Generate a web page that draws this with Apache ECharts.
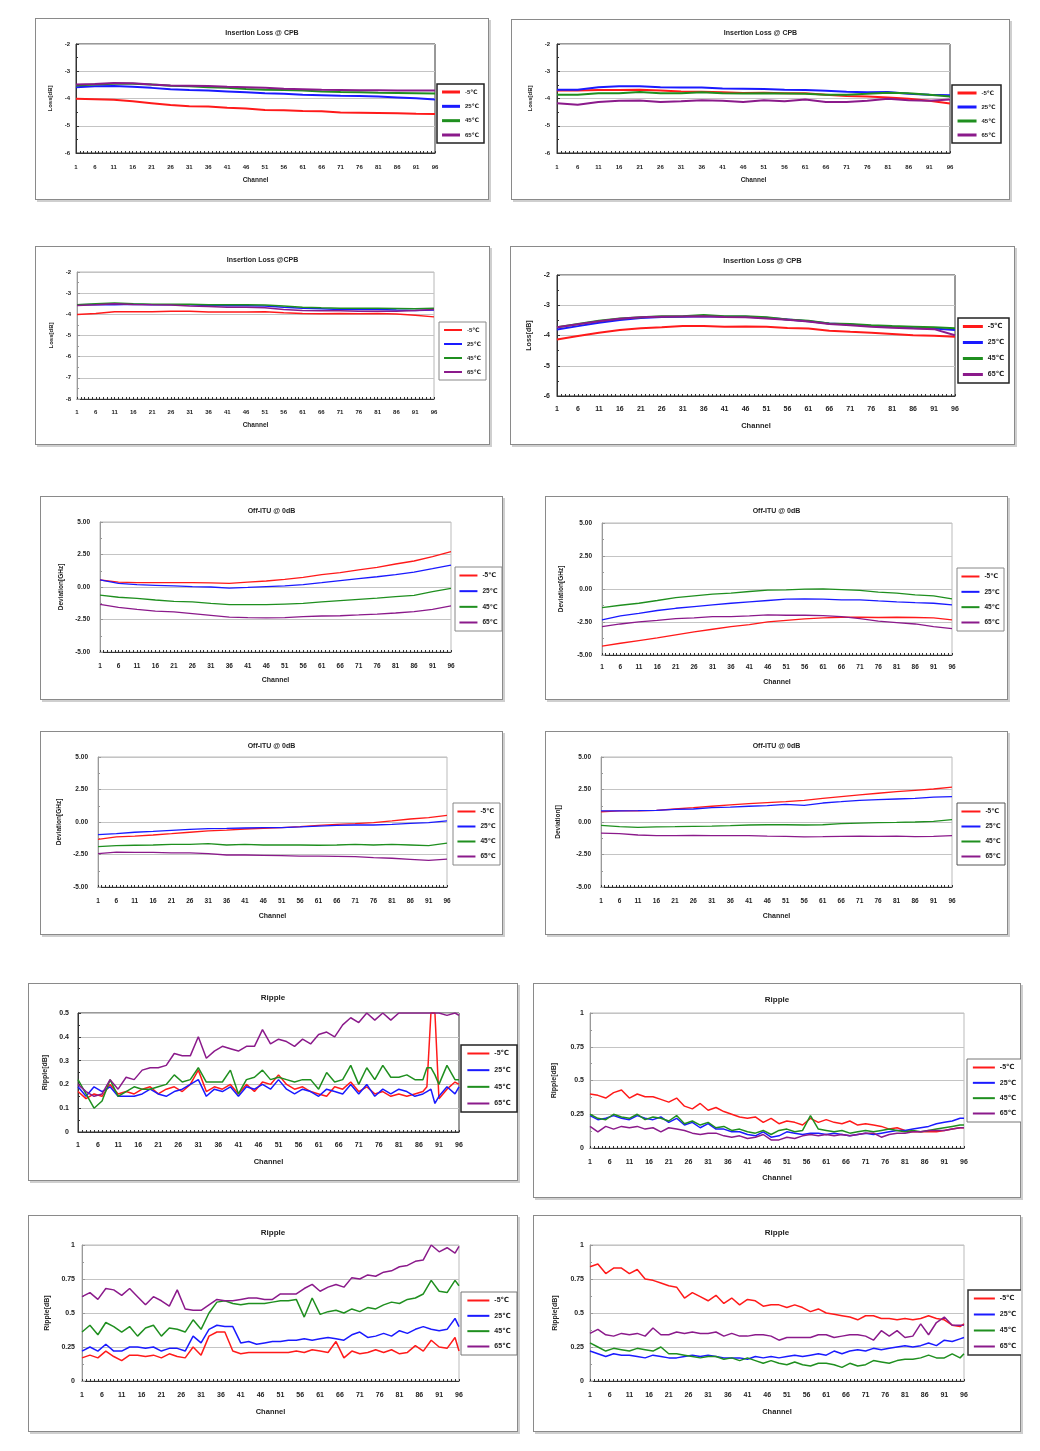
<!DOCTYPE html>
<html><head><meta charset="utf-8">
<script src="https://cdn.jsdelivr.net/npm/echarts@6/dist/echarts.min.js"></script>
<style>
html,body{margin:0;padding:0;background:#fff;}
body{width:1040px;height:1451px;position:relative;overflow:hidden;}
.frame{position:absolute;box-sizing:border-box;border:1px solid #8a8a8a;box-shadow:2px 2px 0 #cfcfcf;background:#fff;}
.chart{position:absolute;}
</style></head><body>
<script>
// ---------- categories / tick labels ----------
const CATS = Array.from({length:96},(_,i)=>String(i+1));
const NAMES = ['-5℃','25℃','45℃','65℃'];
const SMOOTH_CH = [1,6,11,16,21,26,31,36,41,46,51,56,61,66,71,76,81,86,91,96];
const RIPPLE_CH = [1,3,5,7,9,11,13,15,17,19,21,23,25,27,29,31,33,35,37,39,41,43,45,47,49,51,53,55,57,59,61,63,65,67,69,71,73,75,77,79,81,83,85,87,89,91,93,95,96];
const RIPPLE9_CH = [1,3,5,7,9,11,13,15,17,19,21,23,25,27,29,31,33,35,37,39,41,43,45,47,49,51,53,55,57,59,61,63,65,67,69,71,73,75,77,79,81,83,85,87,88,89,90,91,93,95,96];

// ---------- Insertion loss panels ----------
const IL1_M5 = [-4.01,-4.03,-4.05,-4.10,-4.17,-4.24,-4.28,-4.29,-4.34,-4.37,-4.42,-4.43,-4.46,-4.47,-4.51,-4.52,-4.53,-4.54,-4.56,-4.57];
const IL1_25 = [-3.59,-3.55,-3.54,-3.57,-3.61,-3.66,-3.69,-3.71,-3.74,-3.77,-3.81,-3.83,-3.86,-3.88,-3.90,-3.91,-3.93,-3.96,-3.99,-4.04];
const IL1_45 = [-3.52,-3.49,-3.46,-3.46,-3.49,-3.53,-3.55,-3.59,-3.61,-3.65,-3.68,-3.69,-3.71,-3.74,-3.76,-3.77,-3.79,-3.80,-3.81,-3.82];
const IL1_65 = [-3.49,-3.47,-3.43,-3.44,-3.49,-3.52,-3.53,-3.54,-3.57,-3.59,-3.61,-3.64,-3.66,-3.68,-3.69,-3.70,-3.70,-3.71,-3.71,-3.71];

const IL2_M5 = [-3.71,-3.71,-3.69,-3.69,-3.68,-3.71,-3.74,-3.75,-3.77,-3.80,-3.79,-3.81,-3.81,-3.86,-3.91,-3.93,-3.96,-4.01,-4.08,-4.18];
const IL2_25 = [-3.68,-3.68,-3.59,-3.55,-3.55,-3.59,-3.60,-3.60,-3.63,-3.64,-3.65,-3.68,-3.69,-3.72,-3.75,-3.77,-3.76,-3.83,-3.86,-3.88];
const IL2_45 = [-3.86,-3.86,-3.81,-3.81,-3.76,-3.81,-3.81,-3.77,-3.81,-3.82,-3.81,-3.82,-3.83,-3.86,-3.86,-3.83,-3.79,-3.81,-3.86,-3.93];
const IL2_65 = [-4.17,-4.23,-4.13,-4.08,-4.07,-4.13,-4.10,-4.06,-4.08,-4.13,-4.06,-4.10,-4.04,-4.13,-4.13,-4.08,-4.01,-4.06,-4.08,-4.04];

const IL3_M5 = [-4.01,-3.96,-3.88,-3.88,-3.88,-3.86,-3.86,-3.89,-3.89,-3.89,-3.88,-3.93,-3.96,-3.97,-3.96,-3.97,-3.96,-3.99,-4.04,-4.12];
const IL3_25 = [-3.55,-3.53,-3.55,-3.52,-3.55,-3.55,-3.55,-3.58,-3.59,-3.59,-3.61,-3.67,-3.71,-3.74,-3.77,-3.77,-3.77,-3.80,-3.82,-3.80];
const IL3_45 = [-3.55,-3.50,-3.47,-3.50,-3.52,-3.52,-3.52,-3.55,-3.55,-3.55,-3.56,-3.61,-3.66,-3.69,-3.71,-3.71,-3.71,-3.72,-3.74,-3.71];
const IL3_65 = [-3.58,-3.55,-3.50,-3.53,-3.55,-3.56,-3.61,-3.63,-3.66,-3.66,-3.69,-3.77,-3.82,-3.83,-3.83,-3.85,-3.85,-3.85,-3.82,-3.77];

const IL4_M5 = [-4.13,-4.02,-3.91,-3.82,-3.76,-3.73,-3.69,-3.69,-3.71,-3.70,-3.71,-3.75,-3.77,-3.84,-3.88,-3.91,-3.95,-3.99,-4.01,-4.04];
const IL4_25 = [-3.80,-3.69,-3.58,-3.49,-3.42,-3.39,-3.38,-3.36,-3.38,-3.38,-3.41,-3.47,-3.53,-3.60,-3.64,-3.69,-3.71,-3.75,-3.77,-3.82];
const IL4_45 = [-3.73,-3.62,-3.51,-3.44,-3.40,-3.36,-3.36,-3.32,-3.36,-3.36,-3.40,-3.47,-3.51,-3.60,-3.62,-3.66,-3.69,-3.71,-3.73,-3.76];
const IL4_65 = [-3.73,-3.63,-3.53,-3.45,-3.40,-3.38,-3.37,-3.36,-3.39,-3.40,-3.44,-3.48,-3.54,-3.62,-3.66,-3.71,-3.74,-3.77,-3.79,-3.99];

// ---------- Off-ITU panels ----------
const OI5_M5 = [0.54,0.38,0.33,0.33,0.33,0.33,0.31,0.28,0.38,0.46,0.59,0.74,0.95,1.10,1.31,1.51,1.77,2.00,2.33,2.72];
const OI5_25 = [0.54,0.28,0.18,0.13,0.08,0.03,0.00,-0.08,-0.03,0.03,0.08,0.18,0.33,0.49,0.64,0.79,0.95,1.15,1.41,1.69];
const OI5_45 = [-0.62,-0.79,-0.87,-1.00,-1.10,-1.15,-1.26,-1.36,-1.36,-1.36,-1.31,-1.26,-1.15,-1.05,-0.95,-0.85,-0.74,-0.64,-0.36,-0.10];
const OI5_65 = [-1.33,-1.56,-1.72,-1.85,-1.92,-2.05,-2.18,-2.31,-2.36,-2.38,-2.36,-2.28,-2.23,-2.21,-2.15,-2.08,-2.00,-1.90,-1.72,-1.46];

const OI6_M5 = [-4.32,-4.11,-3.91,-3.71,-3.48,-3.25,-3.05,-2.85,-2.70,-2.49,-2.37,-2.27,-2.19,-2.14,-2.14,-2.16,-2.14,-2.16,-2.19,-2.34];
const OI6_25 = [-2.34,-2.04,-1.84,-1.63,-1.46,-1.33,-1.20,-1.08,-0.97,-0.87,-0.77,-0.75,-0.77,-0.82,-0.82,-0.90,-0.97,-1.03,-1.08,-1.20];
const OI6_45 = [-1.41,-1.23,-1.08,-0.87,-0.65,-0.52,-0.39,-0.32,-0.19,-0.09,-0.06,-0.01,0.01,-0.04,-0.11,-0.24,-0.32,-0.44,-0.52,-0.75];
const OI6_65 = [-2.85,-2.65,-2.49,-2.37,-2.24,-2.19,-2.09,-2.09,-2.04,-1.96,-1.99,-1.99,-2.01,-2.09,-2.24,-2.44,-2.54,-2.65,-2.85,-3.00];

const OI7_M5 = [-1.33,-1.15,-1.08,-1.00,-0.90,-0.79,-0.69,-0.62,-0.54,-0.49,-0.44,-0.36,-0.26,-0.18,-0.13,-0.05,0.08,0.23,0.33,0.51];
const OI7_25 = [-0.97,-0.90,-0.79,-0.72,-0.64,-0.56,-0.51,-0.49,-0.46,-0.44,-0.44,-0.38,-0.31,-0.26,-0.23,-0.23,-0.18,-0.10,-0.05,0.08];
const OI7_45 = [-1.90,-1.82,-1.79,-1.77,-1.72,-1.72,-1.67,-1.77,-1.72,-1.77,-1.77,-1.77,-1.79,-1.77,-1.72,-1.77,-1.72,-1.77,-1.82,-1.62];
const OI7_65 = [-2.44,-2.31,-2.33,-2.33,-2.38,-2.38,-2.44,-2.54,-2.54,-2.56,-2.59,-2.62,-2.62,-2.64,-2.67,-2.74,-2.79,-2.87,-2.95,-2.85];

const OI8_M5 = [0.79,0.85,0.85,0.90,1.00,1.10,1.21,1.31,1.41,1.49,1.56,1.67,1.82,1.95,2.08,2.21,2.33,2.44,2.54,2.69];
const OI8_25 = [0.85,0.85,0.87,0.90,0.97,1.00,1.10,1.15,1.21,1.26,1.36,1.28,1.46,1.56,1.67,1.72,1.77,1.82,1.92,1.95];
const OI8_45 = [-0.26,-0.36,-0.41,-0.38,-0.36,-0.33,-0.31,-0.28,-0.23,-0.21,-0.21,-0.23,-0.21,-0.13,-0.08,-0.05,-0.03,0.00,0.05,0.18];
const OI8_65 = [-0.85,-0.90,-1.00,-1.05,-1.05,-1.03,-1.05,-1.05,-1.05,-1.08,-1.10,-1.15,-1.13,-1.10,-1.08,-1.10,-1.08,-1.13,-1.10,-1.05];

// ---------- Ripple panels ----------
const RP9_M5 = [0.17,0.14,0.16,0.15,0.20,0.16,0.17,0.16,0.18,0.19, 0.16,0.18,0.19,0.17,0.20,0.26,0.17,0.19,0.18,0.20, 0.16,0.20,0.17,0.21,0.20,0.24,0.20,0.18,0.19,0.17, 0.16,0.15,0.19,0.18,0.21,0.17,0.19,0.16,0.17,0.15, 0.16,0.15,0.16,0.17, 0.19,0.50,0.50,0.14, 0.18,0.21,0.20];
const RP9_25 = [0.19,0.15,0.19,0.17,0.19,0.15,0.15,0.15,0.16,0.18, 0.16,0.15,0.17,0.18,0.20,0.22,0.15,0.18,0.17,0.19, 0.15,0.19,0.18,0.20,0.18,0.22,0.18,0.16,0.18,0.17, 0.15,0.18,0.17,0.16,0.20,0.16,0.20,0.15,0.18,0.16, 0.18,0.17,0.15,0.16, 0.17,0.18,0.12,0.15, 0.19,0.16,0.19];
const RP9_45 = [0.22,0.16,0.10,0.13,0.22,0.15,0.17,0.19,0.18,0.18, 0.19,0.20,0.24,0.21,0.22,0.27,0.21,0.21,0.21,0.26, 0.16,0.22,0.23,0.26,0.22,0.23,0.22,0.21,0.22,0.22, 0.18,0.25,0.21,0.22,0.28,0.20,0.27,0.22,0.28,0.23, 0.23,0.24,0.22,0.22, 0.27,0.27,0.24,0.20, 0.28,0.22,0.22];
const RP9_65 = [0.20,0.17,0.15,0.16,0.22,0.18,0.23,0.22,0.26,0.27, 0.27,0.28,0.33,0.32,0.32,0.40,0.31,0.34,0.36,0.35, 0.34,0.36,0.36,0.43,0.37,0.39,0.38,0.36,0.39,0.37, 0.41,0.42,0.40,0.45,0.48,0.46,0.50,0.47,0.50,0.47, 0.50,0.50,0.50,0.50, 0.50,0.50,0.50,0.50, 0.49,0.50,0.49];

const RP10_M5 = [0.40,0.39,0.37,0.41,0.43,0.37,0.40,0.38,0.38,0.36, 0.34,0.37,0.31,0.29,0.33,0.28,0.30,0.27,0.25,0.23, 0.22,0.23,0.19,0.22,0.18,0.20,0.19,0.17,0.22,0.19, 0.21,0.19,0.18,0.20,0.17,0.18,0.17,0.16,0.14,0.15, 0.13,0.12,0.12,0.12,0.12,0.13,0.14,0.15,0.15];
const RP10_25 = [0.24,0.21,0.22,0.24,0.22,0.21,0.24,0.22,0.21,0.23, 0.19,0.22,0.17,0.19,0.15,0.18,0.14,0.14,0.12,0.12, 0.10,0.09,0.12,0.08,0.09,0.12,0.11,0.10,0.11,0.11, 0.10,0.11,0.10,0.09,0.10,0.11,0.10,0.11,0.12,0.13, 0.13,0.14,0.15,0.16,0.18,0.19,0.20,0.22,0.22];
const RP10_45 = [0.25,0.22,0.21,0.25,0.23,0.22,0.25,0.21,0.23,0.22, 0.20,0.24,0.18,0.20,0.17,0.19,0.15,0.16,0.13,0.14, 0.12,0.11,0.13,0.10,0.13,0.14,0.12,0.13,0.24,0.14, 0.13,0.12,0.13,0.11,0.12,0.13,0.12,0.13,0.14,0.13, 0.12,0.13,0.12,0.13,0.14,0.15,0.16,0.17,0.17];
const RP10_65 = [0.16,0.12,0.16,0.14,0.16,0.15,0.16,0.14,0.15,0.12, 0.15,0.14,0.13,0.11,0.10,0.11,0.11,0.09,0.08,0.09, 0.07,0.08,0.10,0.06,0.06,0.08,0.07,0.09,0.10,0.09, 0.10,0.09,0.10,0.09,0.10,0.11,0.11,0.08,0.10,0.11, 0.11,0.12,0.12,0.13,0.13,0.13,0.14,0.15,0.15];

const RP11_M5 = [0.17,0.19,0.17,0.22,0.18,0.15,0.19,0.19,0.18,0.19, 0.17,0.20,0.18,0.17,0.25,0.19,0.33,0.36,0.36,0.22, 0.20,0.21,0.21,0.21,0.21,0.21,0.21,0.22,0.21,0.23, 0.22,0.21,0.29,0.17,0.22,0.20,0.21,0.23,0.21,0.23, 0.20,0.21,0.26,0.22,0.30,0.25,0.24,0.32,0.22];
const RP11_25 = [0.22,0.25,0.22,0.27,0.22,0.22,0.25,0.25,0.24,0.25, 0.22,0.24,0.24,0.22,0.33,0.28,0.38,0.41,0.40,0.40, 0.28,0.29,0.27,0.28,0.29,0.29,0.30,0.30,0.31,0.30, 0.31,0.32,0.31,0.30,0.34,0.36,0.32,0.33,0.35,0.33, 0.37,0.35,0.38,0.40,0.38,0.37,0.38,0.46,0.40];
const RP11_45 = [0.36,0.41,0.34,0.43,0.40,0.36,0.40,0.33,0.39,0.41, 0.33,0.39,0.38,0.36,0.45,0.38,0.50,0.58,0.59,0.57, 0.56,0.57,0.57,0.57,0.58,0.59,0.59,0.60,0.47,0.61, 0.49,0.51,0.52,0.50,0.53,0.51,0.54,0.53,0.56,0.58, 0.57,0.60,0.61,0.64,0.74,0.66,0.65,0.74,0.70];
const RP11_65 = [0.62,0.65,0.60,0.68,0.67,0.63,0.68,0.62,0.56,0.62, 0.59,0.55,0.67,0.53,0.52,0.52,0.56,0.60,0.59,0.59, 0.60,0.61,0.61,0.60,0.60,0.64,0.64,0.64,0.68,0.71, 0.66,0.69,0.71,0.69,0.76,0.75,0.78,0.77,0.80,0.81, 0.84,0.85,0.88,0.89,1.00,0.95,0.98,0.94,0.99];

const RP12_M5 = [0.84,0.86,0.79,0.83,0.83,0.79,0.82,0.75,0.74,0.72, 0.70,0.69,0.61,0.65,0.62,0.59,0.63,0.57,0.61,0.56, 0.60,0.59,0.55,0.56,0.56,0.54,0.56,0.54,0.51,0.53, 0.50,0.49,0.48,0.47,0.45,0.48,0.48,0.46,0.46,0.45, 0.46,0.45,0.46,0.48,0.46,0.45,0.41,0.40,0.42];
const RP12_25 = [0.22,0.20,0.18,0.20,0.19,0.19,0.18,0.17,0.19,0.18, 0.17,0.17,0.18,0.19,0.18,0.19,0.18,0.17,0.17,0.17, 0.16,0.18,0.17,0.18,0.17,0.18,0.19,0.18,0.19,0.20, 0.19,0.22,0.20,0.22,0.23,0.22,0.24,0.23,0.24,0.25, 0.26,0.25,0.26,0.28,0.26,0.30,0.29,0.31,0.32];
const RP12_45 = [0.28,0.25,0.22,0.24,0.23,0.22,0.24,0.23,0.22,0.25, 0.20,0.20,0.19,0.18,0.17,0.18,0.18,0.16,0.17,0.15, 0.17,0.15,0.13,0.15,0.13,0.12,0.14,0.12,0.11,0.13, 0.13,0.12,0.10,0.13,0.11,0.12,0.15,0.14,0.13,0.15, 0.16,0.16,0.17,0.19,0.17,0.17,0.20,0.17,0.20];
const RP12_65 = [0.35,0.38,0.34,0.33,0.35,0.34,0.35,0.33,0.39,0.34, 0.34,0.36,0.35,0.36,0.35,0.35,0.36,0.33,0.35,0.33, 0.33,0.34,0.34,0.33,0.30,0.32,0.32,0.32,0.32,0.34, 0.34,0.32,0.33,0.34,0.34,0.33,0.30,0.37,0.33,0.37, 0.32,0.33,0.42,0.34,0.43,0.47,0.41,0.41,0.41];

// ---------- panel definitions ----------
const COLORS = ['#ff1a1a','#1a1aff','#1f8f1f','#8b1a8b'];
const FONT = 'Arial, "Liberation Sans", "DejaVu Sans", sans-serif';
const FMT = {
  int: v => String(Math.round(v)),
  f2: v => v.toFixed(2),
  f1: v => String(+v.toFixed(1)),
  q: v => String(+v.toFixed(2))
};
const PANELS = [
  {title:'Insertion Loss @ CPB', yName:'Loss[dB]', min:-6, max:-2, step:1, fmt:'int', ch:SMOOTH_CH, data:[IL1_M5,IL1_25,IL1_45,IL1_65]},
  {title:'Insertion Loss @ CPB', yName:'Loss[dB]', min:-6, max:-2, step:1, fmt:'int', ch:SMOOTH_CH, data:[IL2_M5,IL2_25,IL2_45,IL2_65]},
  {title:'Insertion Loss @CPB', yName:'Loss[dB]', min:-8, max:-2, step:1, fmt:'int', ch:SMOOTH_CH, data:[IL3_M5,IL3_25,IL3_45,IL3_65]},
  {title:'Insertion Loss @ CPB', yName:'Loss[dB]', min:-6, max:-2, step:1, fmt:'int', ch:SMOOTH_CH, data:[IL4_M5,IL4_25,IL4_45,IL4_65]},
  {title:'Off-ITU @ 0dB', yName:'Deviation[GHz]', min:-5, max:5, step:2.5, fmt:'f2', ch:SMOOTH_CH, data:[OI5_M5,OI5_25,OI5_45,OI5_65]},
  {title:'Off-ITU @ 0dB', yName:'Deviation[GHz]', min:-5, max:5, step:2.5, fmt:'f2', ch:SMOOTH_CH, data:[OI6_M5,OI6_25,OI6_45,OI6_65]},
  {title:'Off-ITU @ 0dB', yName:'Deviation[GHz]', min:-5, max:5, step:2.5, fmt:'f2', ch:SMOOTH_CH, data:[OI7_M5,OI7_25,OI7_45,OI7_65]},
  {title:'Off-ITU @ 0dB', yName:'Deviation[]', min:-5, max:5, step:2.5, fmt:'f2', ch:SMOOTH_CH, data:[OI8_M5,OI8_25,OI8_45,OI8_65]},
  {title:'Ripple', yName:'Ripple[dB]', min:0, max:0.5, step:0.1, fmt:'f1', ch:RIPPLE9_CH, data:[RP9_M5,RP9_25,RP9_45,RP9_65]},
  {title:'Ripple', yName:'Ripple[dB]', min:0, max:1, step:0.25, fmt:'q', ch:RIPPLE_CH, data:[RP10_M5,RP10_25,RP10_45,RP10_65]},
  {title:'Ripple', yName:'Ripple[dB]', min:0, max:1, step:0.25, fmt:'q', ch:RIPPLE_CH, data:[RP11_M5,RP11_25,RP11_45,RP11_65]},
  {title:'Ripple', yName:'Ripple[dB]', min:0, max:1, step:0.25, fmt:'q', ch:RIPPLE_CH, data:[RP12_M5,RP12_25,RP12_45,RP12_65]}
];
// layout (absolute page pixels)
const LAYOUT = [
 {f:[35,18,454,182], g:[76,44,359,109], l:[437,84,46,59], ty:34, yn:54, cy:181, xl:167, fs:6, tfs:7, lw:2, gb:'#333', lb:'#222', lbw:1.5, ym:6},
 {f:[511,19,499,181], g:[557,44,393,109], l:[952,85,48,58], ty:34, yn:532, cy:181, xl:167, fs:6, tfs:7, lw:2, gb:'#333', lb:'#222', lbw:1.5, ym:7},
 {f:[35,246,455,199], g:[77,272,357,127], l:[439,322,46,58], ty:261, yn:54, cy:426, xl:412, fs:6, tfs:7, lw:1.5, gb:'#b8b8b8', lb:'#888', lbw:1, ym:6},
 {f:[510,246,505,199], g:[557,275,398,121], l:[958,318,50,65], ty:262, yn:533, cy:426, xl:409, fs:7, tfs:7.5, lw:2, gb:'#333', lb:'#222', lbw:1.5, ym:7},
 {f:[40,496,463,204], g:[100,522,351,130], l:[455,567,46,62], ty:512, yn:61, cy:681, xl:666, fs:6.5, tfs:7, lw:1.3, gb:'#bbb', lb:'#888', lbw:1, ym:10},
 {f:[545,496,463,204], g:[602,523,350,132], l:[957,568,46,61], ty:512, yn:561, cy:683, xl:667, fs:6.5, tfs:7, lw:1.3, gb:'#bbb', lb:'#888', lbw:1, ym:10},
 {f:[40,731,463,204], g:[98,757,349,130], l:[453,803,46,60], ty:747, yn:59, cy:917, xl:901, fs:6.5, tfs:7, lw:1.3, gb:'#bbb', lb:'#888', lbw:1, ym:10},
 {f:[545,731,463,204], g:[601,757,351,130], l:[957,803,47,60], ty:747, yn:558, cy:917, xl:901, fs:6.5, tfs:7, lw:1.3, gb:'#bbb', lb:'#555', lbw:1, ym:10},
 {f:[28,983,490,198], g:[78,1013,381,119], l:[461,1045,55,67], ty:999, yn:48, cy:1162, xl:1145, fs:7, tfs:8, lw:1.5, gb:'#333', lb:'#222', lbw:1.5, ym:9},
 {f:[533,983,488,215], g:[590,1013,374,135], l:[967,1059,54,63], ty:1001, yn:554, cy:1178, xl:1162, fs:7, tfs:8, lw:1.5, gb:'#bbb', lb:'#777', lbw:1, ym:6},
 {f:[28,1215,490,217], g:[82,1245,377,136], l:[461,1292,55,63], ty:1234, yn:49, cy:1412, xl:1395, fs:7, tfs:8, lw:1.5, gb:'#bbb', lb:'#777', lbw:1, ym:7},
 {f:[533,1215,488,217], g:[590,1245,374,136], l:[968,1290,53,65], ty:1234, yn:555, cy:1412, xl:1395, fs:7, tfs:8, lw:1.5, gb:'#bbb', lb:'#333', lbw:1.5, ym:6}
];

const measure = document.createElement('canvas').getContext('2d');

PANELS.forEach((p, k) => {
  const L = LAYOUT[k];
  const [fx, fy, fw, fh] = L.f;
  const frame = document.createElement('div');
  frame.className = 'frame';
  Object.assign(frame.style, {left:fx+'px', top:fy+'px', width:fw+'px', height:fh+'px'});
  document.body.appendChild(frame);
  const el = document.createElement('div');
  el.className = 'chart';
  Object.assign(el.style, {left:fx+'px', top:fy+'px', width:fw+'px', height:fh+'px'});
  document.body.appendChild(el);

  const gx = L.g[0]-fx, gy = L.g[1]-fy, gw = L.g[2], gh = L.g[3];
  const fs = L.fs;
  const txt = {fontSize:fs, fontWeight:'bold', color:'#222', fontFamily:FONT};

  measure.font = 'bold ' + fs + 'px ' + FONT;
  const tw = Math.max(...NAMES.map(n => measure.measureText(n).width));
  const [lx, ly, lw, lh] = L.l;
  const iw = Math.round(lw * 0.4);
  const padH = Math.max(2, (lw - iw - 4 - tw) / 2);
  const padV = 5;
  const gap = Math.max(2, (lh - 2*padV - 4*fs) / 3);
  const dark = L.gb === '#333';

  const chart = echarts.init(el, null, {renderer:'canvas', width:fw, height:fh});
  chart.setOption({
    animation:false,
    backgroundColor:'transparent',
    title:{text:p.title, left:'center', top:L.ty - fy - L.tfs/2 - 1, padding:0,
      textStyle:{fontSize:L.tfs, fontWeight:'bold', color:'#222', fontFamily:FONT}},
    legend:{
      data:NAMES, orient:'vertical', left:lx-fx, top:ly-fy,
      padding:[padV, padH], itemGap:gap, itemWidth:iw, itemHeight:L.lw >= 2 ? 3 : 2,
      itemTextGap:4, icon:'rect', borderColor:L.lb, borderWidth:L.lbw, backgroundColor:'#fff',
      selectedMode:false, textStyle:txt
    },
    grid:{left:gx, top:gy, width:gw, height:gh, show:true, borderColor:L.gb, borderWidth:1, backgroundColor:'#fff'},
    xAxis:{
      type:'category', data:CATS, boundaryGap:false,
      name:'Channel', nameLocation:'middle', nameGap:L.cy - L.g[1] - gh - fs/2 - 1,
      nameTextStyle:Object.assign({}, txt, {fontSize:fs+0.5}),
      axisLine:{show:true, onZero:false, lineStyle:{color:'#333', width:1}},
      axisTick:{show:true, interval:0, inside:true, length:2, lineStyle:{color:'#333'}},
      axisLabel:Object.assign({interval:4, margin:L.xl - L.g[1] - gh - fs/2}, txt),
      splitLine:{show:false}
    },
    yAxis:{
      type:'value', min:p.min, max:p.max, interval:p.step,
      name:p.yName, nameLocation:'middle', nameGap:L.g[0] - L.yn - fs/2,
      nameTextStyle:txt,
      axisLine:{show:true, onZero:false, lineStyle:{color: dark ? '#333' : '#999', width:1}},
      axisTick:{show:true, inside:true, length:3, lineStyle:{color: dark ? '#333':'#999'}},
      minorTick:{show:true, splitNumber:2, length:2, lineStyle:{color: dark ? '#333':'#999'}},
      axisLabel:Object.assign({margin:L.ym, formatter:FMT[p.fmt]}, txt),
      splitLine:{show:true, lineStyle:{color:'#c4c4c4', width:1}}
    },
    series:p.data.map((arr, i) => ({
      name:NAMES[i], type:'line', symbol:'none', showSymbol:false, silent:true,
      data:p.ch.map((c, j) => [String(c), arr[j]]),
      lineStyle:{width:L.lw, color:COLORS[i]}, itemStyle:{color:COLORS[i]}
    }))
  });
});
</script>
</body></html>
